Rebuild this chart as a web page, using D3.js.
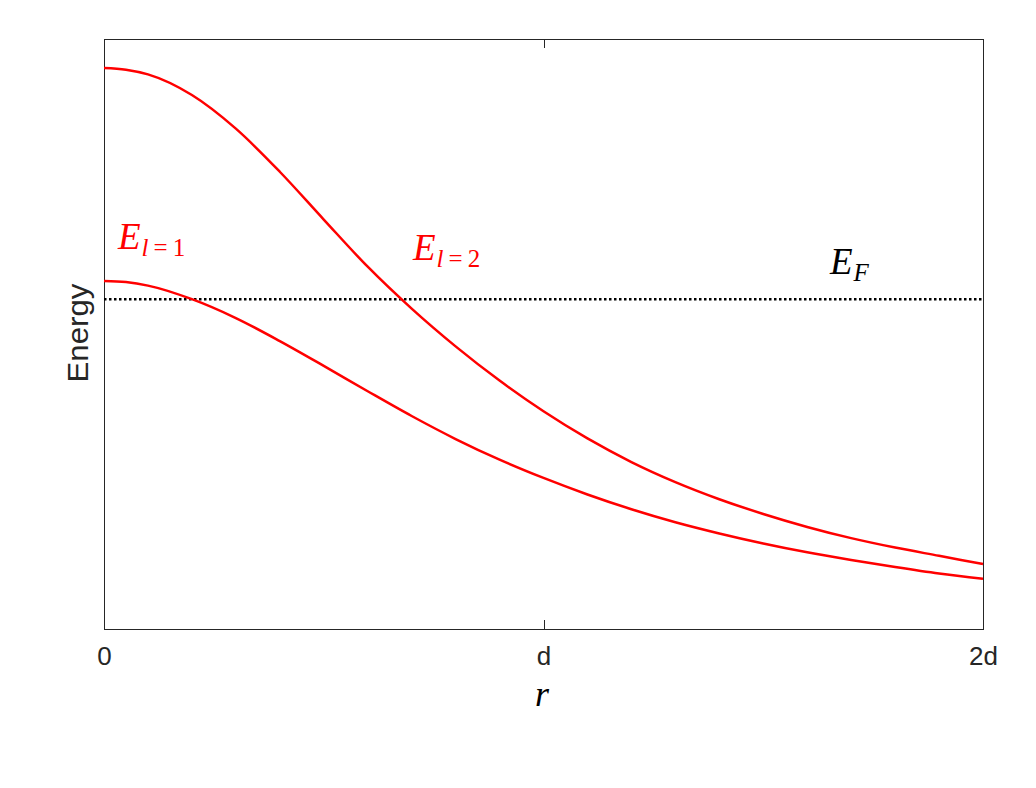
<!DOCTYPE html>
<html><head><meta charset="utf-8">
<script src="https://cdn.jsdelivr.net/npm/d3@7"></script>
<style>body{margin:0;background:#fff}</style>
</head><body>
<svg id="c" width="1036" height="788"></svg>
<script>
const rValues = [0,0.05,0.1,0.2,0.3,0.4,0.5,0.6,0.7,0.8,0.9,1.0,1.1,1.2,1.3,1.4,1.5,1.6,1.7,1.8,1.9,2.0];
const energyL2 = [0.951,0.948,0.940,0.905,0.848,0.775,0.694,0.614,0.543,0.479,0.421,0.369,0.323,0.283,0.249,0.220,0.195,0.173,0.154,0.138,0.124,0.110];
const energyL1 = [0.590,0.588,0.582,0.559,0.527,0.488,0.446,0.403,0.361,0.322,0.287,0.256,0.228,0.203,0.181,0.162,0.145,0.130,0.117,0.105,0.094,0.085];
const fermiEnergy = 0.559;
const xTickValues = [0,1,2];
const xTickLabels = ["0","d","2d"];

(function(){
const svg = d3.select("#c");
const L=104, R=983, T=39, B=629;
const x = d3.scaleLinear().domain([0,2]).range([L,R]);
const y = d3.scaleLinear().domain([0,1]).range([B,T]);
const axisColor = "#262626";

svg.append("rect").attr("x",L).attr("y",T).attr("width",R-L).attr("height",B-T)
  .attr("fill","none").attr("stroke",axisColor).attr("stroke-width",1).attr("shape-rendering","crispEdges");

const bottomAxis = svg.append("g").attr("transform",`translate(0,${B})`)
  .call(d3.axisBottom(x).tickValues(xTickValues).tickFormat((d,i)=>xTickLabels[i]).tickSize(-9).tickPadding(18));
bottomAxis.select(".domain").remove();
bottomAxis.selectAll("line").attr("stroke",axisColor).attr("shape-rendering","crispEdges");
bottomAxis.selectAll("text").attr("font-family","Liberation Sans, Arial, sans-serif").attr("font-size",26).attr("fill",axisColor);

const topAxis = svg.append("g").attr("transform",`translate(0,${T})`)
  .call(d3.axisTop(x).tickValues(xTickValues).tickFormat("").tickSize(-9));
topAxis.select(".domain").remove();
topAxis.selectAll("line").attr("stroke",axisColor).attr("shape-rendering","crispEdges");

svg.append("line").attr("x1",x(0)).attr("x2",x(2)).attr("y1",y(fermiEnergy)).attr("y2",y(fermiEnergy))
  .attr("stroke","#000").attr("stroke-width",2.5).attr("stroke-dasharray","2.5,2.5");

const line = d3.line().x((d,i)=>x(rValues[i])).y(d=>y(d)).curve(d3.curveMonotoneX);
[energyL2, energyL1].forEach(s=>{
  svg.append("path").attr("d",line(s)).attr("fill","none").attr("stroke","#ff0000").attr("stroke-width",2.5);
});

function mathLabel(xp, yp, sub, color){
  const t = svg.append("text").attr("x",xp).attr("y",yp).attr("fill",color)
    .attr("font-family","Liberation Serif, DejaVu Serif, serif").attr("font-size",37);
  t.append("tspan").attr("font-style","italic").text("E");
  sub.forEach((p,i)=>{
    const ts = t.append("tspan").attr("font-size",25).attr("font-style",p.it?"italic":"normal").text(p.t);
    if(i===0) ts.attr("dy",7).attr("dx",1);
  });
}
mathLabel(118, 249, [{t:"l",it:true},{t:"\u2009=\u20091",it:false}], "#ff0000");
mathLabel(413, 260, [{t:"l",it:true},{t:"\u2009=\u20092",it:false}], "#ff0000");
mathLabel(830, 274, [{t:"F",it:true}], "#000");

svg.append("text").attr("transform","translate(88,333) rotate(-90)").attr("text-anchor","middle")
  .attr("font-family","Liberation Sans, Arial, sans-serif").attr("font-size",30).attr("fill",axisColor)
  .attr("textLength",99).attr("lengthAdjust","spacingAndGlyphs").text("Energy");

svg.append("text").attr("x",542).attr("y",706).attr("text-anchor","middle")
  .attr("font-family","Liberation Serif, DejaVu Serif, serif").attr("font-style","italic")
  .attr("font-size",36).attr("fill","#000").text("r");
})();
</script>
</body></html>
